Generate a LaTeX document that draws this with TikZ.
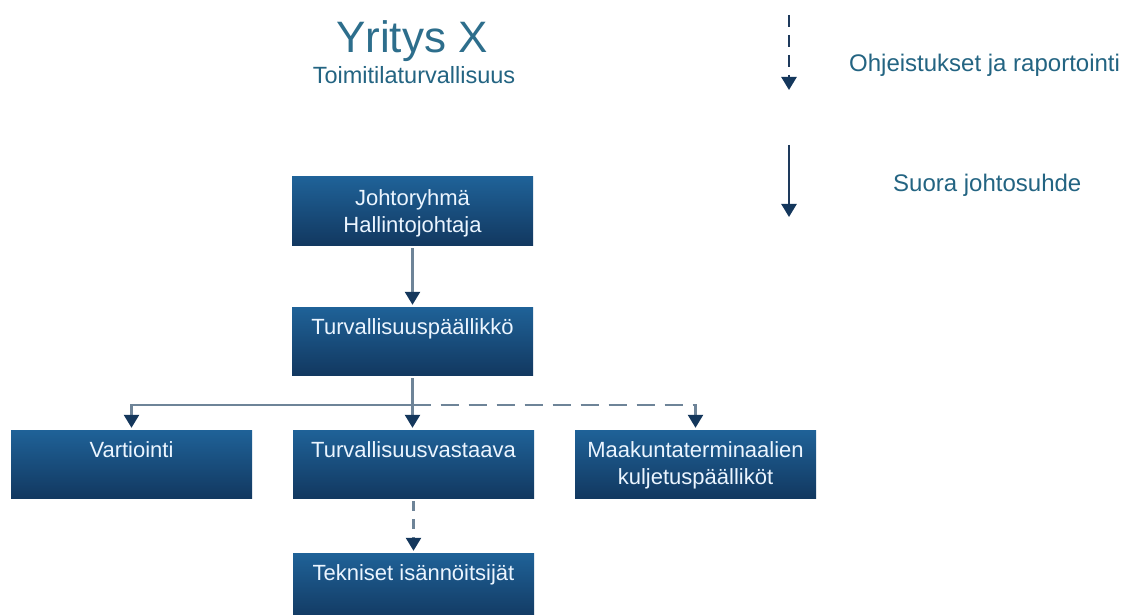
\documentclass[tikz,border=0pt]{standalone}
\usepackage{fontspec}
\setmainfont{Liberation Sans}
\usetikzlibrary{arrows.meta}

\definecolor{boxtop}{RGB}{31,98,152}
\definecolor{boxbot}{RGB}{18,56,96}
\definecolor{linegray}{RGB}{110,132,152}
\definecolor{headnavy}{RGB}{20,55,92}
\definecolor{legendnavy}{RGB}{30,58,92}
\definecolor{titleteal}{RGB}{45,110,140}
\definecolor{subteal}{RGB}{35,100,130}
\definecolor{boxtext}{RGB}{235,245,255}

\tikzset{
  orgbox/.style={rectangle, inner sep=0pt, minimum width=241pt, minimum height=68pt,
    top color=boxtop, bottom color=boxbot, draw=none},
  boxlabel/.style={anchor=north, inner sep=0pt, align=center, text=boxtext,
    font=\fontsize{22}{27}\selectfont},
  conn/.style={draw=linegray, line width=2.5pt,
    -{Triangle[width=15pt,length=13pt,color=headnavy]}, shorten <=3pt, shorten >=2pt},
  dashconn/.style={conn, dash pattern=on 18pt off 10pt},
  legendarrow/.style={draw=legendnavy, line width=2.4pt,
    -{Triangle[width=15pt,length=13pt,color=headnavy]}},
  legendtext/.style={anchor=west, inner sep=0pt, text=subteal,
    font=\fontsize{24}{28}\selectfont}
}

\begin{document}
\begin{tikzpicture}[x=1pt, y=-1pt]
  \useasboundingbox[fill=white] (0,0) rectangle (1128,615);

  % heading
  \node[anchor=base, inner sep=0pt, text=titleteal, font=\fontsize{44}{48}\selectfont]
    (title) at (412,53) {Yritys X};
  \node[anchor=base, inner sep=0pt, text=subteal, font=\fontsize{23.5}{27}\selectfont]
    (subtitle) at (414,84) {Toimitilaturvallisuus};

  % legend
  \coordinate (lgA) at (789,15);
  \coordinate (lgB) at (789,90);
  \coordinate (lgC) at (789,145);
  \coordinate (lgD) at (789,217);
  \draw[legendarrow, dash pattern=on 12pt off 8pt] (lgA) -- (lgB);
  \draw[legendarrow] (lgC) -- (lgD);
  \node[legendtext] (lgdash) at (849,65) {Ohjeistukset ja raportointi};
  \node[legendtext] (lgsolid) at (893,185) {Suora johtosuhde};

  % boxes
  \node[orgbox] (johto) at (412.5,211) {};
  \node[orgbox] (tpaal) at (412.5,341) {};
  \node[orgbox] (vart)  at (131.5,464) {};
  \node[orgbox] (tvast) at (413.5,464) {};
  \node[orgbox] (maak)  at (695.5,464) {};
  \node[orgbox] (tekn)  at (413.5,587) {};

  % box texts
  \node[boxlabel] (johtoT) at ([yshift=-13pt]johto.north) {Johtoryhmä\\Hallintojohtaja};
  \node[boxlabel] (tpaalT) at ([yshift=-12pt]tpaal.north) {Turvallisuuspäällikkö};
  \node[boxlabel] (vartT)  at ([yshift=-12pt]vart.north)  {Vartiointi};
  \node[boxlabel] (tvastT) at ([yshift=-12pt]tvast.north) {Turvallisuusvastaava};
  \node[boxlabel] (maakT)  at ([yshift=-12pt]maak.north)  {Maakuntaterminaalien\\kuljetuspäälliköt};
  \node[boxlabel] (teknT)  at ([yshift=-12pt]tekn.north)  {Tekniset isännöitsijät};

  % connectors
  \draw[conn] (johto.south) -- (tpaal.north);
  \coordinate (split) at (412.5,405);
  \draw[conn] (tpaal.south) -- (tvast.north -| split);
  \draw[conn, shorten <=0pt] (split) -| (vart.north);
  \draw[dashconn, shorten <=0pt] (split) -| (maak.north);
  \draw[conn, dash pattern=on 10pt off 8pt] (tvast.south) -- (tekn.north);
\end{tikzpicture}
\end{document}
